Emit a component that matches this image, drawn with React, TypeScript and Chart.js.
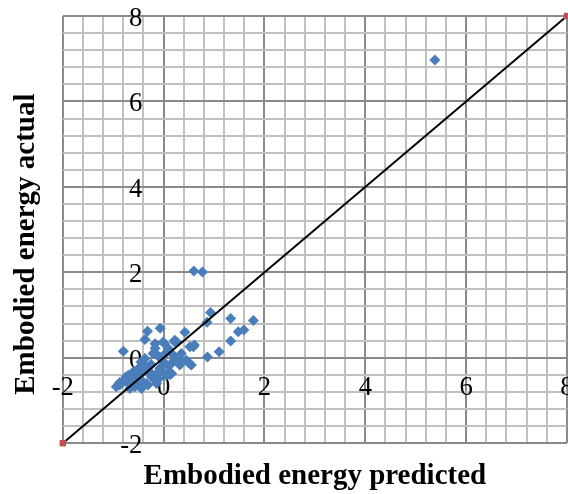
import React, { useEffect, useRef } from "react";
import { Chart, registerables } from "chart.js";

Chart.register(...registerables);

// Diagonal reference line (y = x)
const lineX = [-2, 8];
const lineY = [-2, 8];

// Scatter: predicted (x) vs actual (y)
const predicted = [
  5.38, 0.60, 0.77, 0.93, 0.86, 1.33, 1.78, 1.59, 1.48, 1.33,
  1.10, 0.87, 0.61, 0.52, 0.42, 0.22, -0.07, -0.32, -0.37, -0.80,
  0.16, 0.12, 0.35, 0.32, 0.48, 0.52, 0.32, -0.17, -0.01, 0.26,
  0.09, -0.21, -0.08, -0.37, -0.34, -0.50, -0.60, -0.70, -0.77, -0.87,
  -0.94, -0.54, -0.41, -0.24, -0.05, 0.12, -0.57, -0.31, -0.14, -0.44,
  -0.67, -0.17, 0.02, 0.22, 0.05, -0.08, -0.21, -0.34, 0.59, 0.55,
  -0.87, -0.60, -0.46, -0.25, -0.12, -0.70, -0.50, -0.28, 0.05, -0.45,
  -0.62, -0.15, 0.45, 0.22, 0.16, -0.75, -0.30, 0.00, 0.20, -0.40,
  -0.10, 0.10
];
const actual = [
  6.97, 2.03, 2.01, 1.06, 0.83, 0.92, 0.87, 0.65, 0.61, 0.39,
  0.14, 0.02, 0.30, 0.26, 0.60, 0.41, 0.69, 0.62, 0.43, 0.15,
  -0.12, -0.40, 0.10, -0.06, -0.10, -0.14, -0.17, 0.33, 0.37, 0.37,
  0.22, 0.10, 0.02, -0.02, -0.21, -0.25, -0.33, -0.41, -0.52, -0.58,
  -0.68, -0.52, -0.56, -0.45, -0.29, -0.33, -0.68, -0.64, -0.60, -0.72,
  -0.72, 0.22, 0.33, -0.06, -0.41, -0.25, -0.45, -0.60, 0.26, -0.17,
  -0.64, -0.55, -0.40, -0.15, 0.05, -0.60, -0.62, -0.32, 0.12, -0.10,
  -0.48, -0.40, -0.06, 0.37, -0.37, -0.45, -0.35, -0.10, 0.05, -0.30,
  -0.50, -0.20
];

const axisMin = -2;
const axisMax = 8;
const gridStep = 0.4;
const labelStep = 2;
const xTitle = "Embodied energy predicted";
const yTitle = "Embodied energy actual";

const SERIF = "'Liberation Serif', 'Times New Roman', serif";

export default function App() {
  const ref = useRef<HTMLCanvasElement | null>(null);

  useEffect(() => {
    if (!ref.current) return;
    const isMajor = (v: number) => Math.abs(v / labelStep - Math.round(v / labelStep)) < 1e-6;
    const gridColor = (ctx: any) => (ctx.tick && isMajor(ctx.tick.value) ? "#8a8a8a" : "#c0c0c0");

    const chart = new Chart(ref.current, {
      type: "scatter",
      data: {
        datasets: [
          {
            label: "line",
            data: lineX.map((x, i) => ({ x, y: lineY[i] })),
            showLine: true,
            clip: false,
            borderColor: "#000000",
            borderWidth: 2,
            pointStyle: "rect",
            pointRadius: 4.5,
            pointBackgroundColor: "#c0504d",
            pointBorderColor: "#c0504d",
            pointBorderWidth: 0,
          },
          {
            label: "data",
            data: predicted.map((x, i) => ({ x, y: actual[i] })),
            pointStyle: "rectRot",
            pointRadius: 5.5,
            pointBackgroundColor: "#4a7ebb",
            pointBorderColor: "#4a7ebb",
            pointBorderWidth: 0,
          },
        ],
      },
      options: {
        responsive: false,
        animation: false,
        layout: { padding: { left: 9, top: 36, right: 33, bottom: 0 } },
        plugins: { legend: { display: false }, tooltip: { enabled: false } },
        scales: {
          x: {
            type: "linear",
            position: "bottom",
            min: axisMin,
            max: axisMax,
            ticks: { display: false, stepSize: gridStep },
            grid: { color: gridColor, lineWidth: 2, drawTicks: false },
            border: { display: false },
            title: {
              display: true,
              text: xTitle,
              color: "#000",
              font: { family: SERIF, size: 29, weight: "bold", lineHeight: 1.2 },
              padding: { top: 16, bottom: 0 },
            },
          },
          y: {
            type: "linear",
            position: "left",
            min: axisMin,
            max: axisMax,
            ticks: { display: false, stepSize: gridStep },
            grid: { color: gridColor, lineWidth: 2, drawTicks: false },
            border: { display: false },
            title: {
              display: true,
              text: yTitle + "    ",
              color: "#000",
              font: { family: SERIF, size: 29, weight: "bold", lineHeight: 1.2 },
              padding: { top: 0, bottom: 19 },
            },
          },
          xl: {
            type: "linear",
            axis: "x",
            position: { y: 0 },
            min: axisMin,
            max: axisMax,
            z: 1,
            ticks: {
              stepSize: labelStep,
              autoSkip: false,
              maxRotation: 0,
              color: "#000",
              padding: 16,
              font: { family: SERIF, size: 26.7, lineHeight: 1.1 },
            },
            grid: { display: false, drawTicks: false },
            border: { display: false },
          },
          yl: {
            type: "linear",
            axis: "y",
            position: { x: -0.42 },
            min: axisMin,
            max: axisMax,
            z: 1,
            ticks: {
              stepSize: labelStep,
              autoSkip: false,
              color: "#000",
              padding: 0,
              labelOffset: 3,
              font: { family: SERIF, size: 26.7, lineHeight: 1.1 },
            },
            grid: { display: false, drawTicks: false },
            border: { display: false },
          },
        },
      },
    });
    return () => chart.destroy();
  }, []);

  return (
    <div
      style={{
        position: "fixed",
        left: 0,
        top: 0,
        width: 568,
        height: 494,
        overflow: "hidden",
        background: "#ffffff",
      }}
    >
      <canvas
        ref={ref}
        width={600}
        height={514}
        style={{ display: "block", position: "relative", top: -20 }}
      />
    </div>
  );
}
